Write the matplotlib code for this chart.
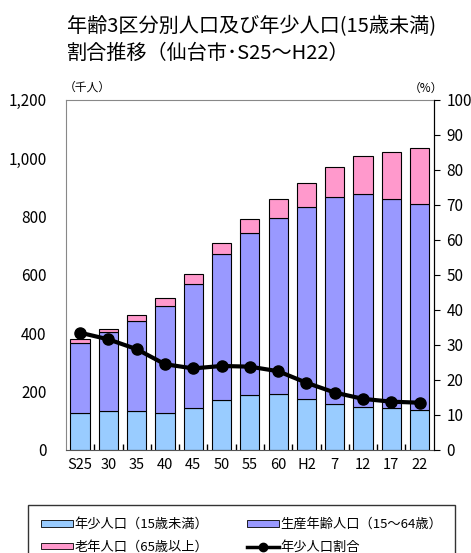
import matplotlib
matplotlib.use("Agg")
import matplotlib.pyplot as plt
import numpy as np
from matplotlib.patches import Patch
from matplotlib.lines import Line2D

plt.rcParams["font.family"] = ["Noto Sans CJK JP", "DejaVu Sans"]

# ── データ ──────────────────────────────────────────────
years    = ["S25", "30", "35", "40", "45", "50", "55", "60", "H2", "7", "12", "17", "22"]
young    = [128, 134, 134, 128, 143, 172, 187, 193, 176, 159, 149, 143, 137]   # 千人
working  = [240, 269, 308, 367, 425, 500, 556, 601, 658, 709, 727, 716, 706]   # 千人
elderly  = [12, 12, 20, 25, 35, 38, 48, 66, 80, 101, 132, 163, 191]            # 千人
ratio    = [33.5, 31.6, 28.8, 24.5, 23.3, 24.0, 23.8, 22.5, 19.2, 16.4, 14.6, 13.8, 13.5]  # %

C_YOUNG   = "#99CCFF"
C_WORKING = "#9999FF"
C_ELDERLY = "#FF99CC"

fig = plt.figure(figsize=(4.71, 5.53), dpi=100)
ax = fig.add_axes([0.140, 0.1863, 0.781, 0.633])

x = np.arange(len(years))
w = 0.68
young_a   = np.array(young)
working_a = np.array(working)
ax.bar(x, young, w, color=C_YOUNG, edgecolor="black", linewidth=0.8, zorder=2)
ax.bar(x, working, w, bottom=young_a, color=C_WORKING, edgecolor="black", linewidth=0.8, zorder=2)
ax.bar(x, elderly, w, bottom=young_a + working_a, color=C_ELDERLY, edgecolor="black", linewidth=0.8, zorder=2)

ax.set_xlim(-0.5, len(years) - 0.5)
ax.set_ylim(0, 1200)
ax.set_yticks(range(0, 1201, 200))
ax.set_yticklabels([f"{v:,}" for v in range(0, 1201, 200)], fontsize=11)
ax.tick_params(axis="y", length=0, pad=14)
ax.set_xticks(x)
ax.set_xticklabels(years, fontsize=10.5)
ax.set_xticks(np.arange(len(years) - 1) + 0.5, minor=True)
ax.tick_params(axis="x", which="major", length=0, pad=6)
ax.tick_params(axis="x", which="minor", direction="in", length=4, width=1, color="black")

for s in ["top", "left"]:
    ax.spines[s].set_color("#888888")
ax.spines["bottom"].set_color("#555555")

# 年少人口割合 (右軸)
ax2 = ax.twinx()
ax2.plot(x, ratio, color="black", linewidth=3, marker="o", markersize=8, zorder=3)
ax2.set_ylim(0, 100)
ax2.set_yticks(range(0, 101, 10))
ax2.tick_params(axis="y", labelsize=11, length=4, direction="out", pad=5)
ax2.spines["right"].set_color("black")
ax2.spines["top"].set_visible(False)
ax2.spines["left"].set_visible(False)
ax2.spines["bottom"].set_visible(False)

# タイトル・単位
fig.text(0.142, 0.952, "年齢3区分別人口及び年少人口(15歳未満)", fontsize=14.5, va="center", ha="left")
fig.text(0.142, 0.903, "割合推移（仙台市･S25～H22）", fontsize=14.5, va="center", ha="left")
fig.text(0.136, 0.842, "（千人）", fontsize=8.5, va="center", ha="left")
fig.text(0.905, 0.840, "（%）", fontsize=8.5, va="center", ha="center")

handles = [
    Patch(facecolor=C_YOUNG, edgecolor="black", linewidth=0.6),
    Patch(facecolor=C_WORKING, edgecolor="black", linewidth=0.6),
    Patch(facecolor=C_ELDERLY, edgecolor="black", linewidth=0.6),
    Line2D([0], [0], color="black", linewidth=2.5, marker="o", markersize=6),
]
labels = ["年少人口（15歳未満）", "生産年齢人口（15～64歳）", "老年人口（65歳以上）", "年少人口割合"]
order = [0, 2, 1, 3]
leg = fig.legend([handles[i] for i in order], [labels[i] for i in order],
                 loc="upper left", bbox_to_anchor=(28 / 471, 1 - 505 / 553, 427 / 471, 0.0),
                 mode="expand", ncol=2, fontsize=9.5, frameon=True, fancybox=False,
                 edgecolor="black", handlelength=2.4, handleheight=0.35,
                 handletextpad=0.1, borderaxespad=0, borderpad=1.0,
                 columnspacing=1.0, labelspacing=0.7)
leg.get_frame().set_linewidth(1.0)

fig.savefig("out.png", dpi=100)
